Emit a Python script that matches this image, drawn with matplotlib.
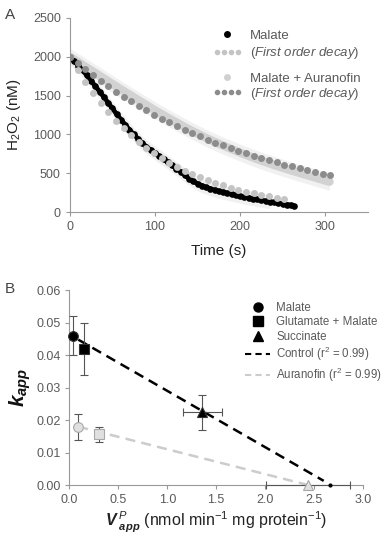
import numpy as np
import matplotlib
matplotlib.use("Agg")
import matplotlib.pyplot as plt
from matplotlib.lines import Line2D
from matplotlib.legend_handler import HandlerLine2D

plt.rcParams['font.family'] = ['Liberation Sans', 'DejaVu Sans']
plt.rcParams['mathtext.fontset'] = 'custom'
plt.rcParams['mathtext.rm'] = 'Liberation Sans'
plt.rcParams['mathtext.it'] = 'Liberation Sans:italic'
plt.rcParams['mathtext.bf'] = 'Liberation Sans:bold'
plt.rcParams['mathtext.bfit'] = 'Liberation Sans:bold:italic'

# ---------------- Panel A data ----------------
# Malate (measured), every 5 s
t_mal = [0, 5, 10, 15, 20, 25, 30, 35, 40, 45, 50, 55, 60, 65, 70, 75, 80, 85, 90, 95,
         100, 105, 110, 115, 120, 125, 130, 135, 140, 145, 150, 155, 160, 165, 170, 175,
         180, 185, 190, 195, 200, 205, 210, 215, 220, 225, 230, 235, 240, 245, 250, 255,
         260, 263]
h2o2_mal = [2000, 1945, 1885, 1825, 1760, 1690, 1620, 1550, 1480, 1405, 1335, 1260, 1190,
            1125, 1060, 1000, 945, 890, 840, 800, 760, 720, 680, 640, 600, 560, 520, 475,
            430, 395, 365, 340, 318, 300, 283, 268, 255, 242, 228, 215, 203, 192, 182, 172,
            162, 152, 142, 133, 124, 115, 106, 96, 88, 80]
sd_mal = 90

# Malate + Auranofin (measured)
t_aur = [0, 20, 40, 60, 80, 100, 120, 140, 160, 180, 200, 220, 240, 260, 280, 300, 305]
h2o2_aur = [2000, 1860, 1720, 1580, 1445, 1310, 1185, 1065, 955, 855, 765, 680, 605, 535,
            470, 405, 390]
sd_aur = 110

# first order decay fits, every 9 s
t_fit_mal = list(range(0, 253, 9))
fit_mal = [2000, 1831, 1677, 1535, 1405, 1287, 1178, 1079, 988, 904, 828, 758, 694, 635,
           582, 533, 488, 447, 409, 374, 343, 314, 287, 263, 241, 220, 202, 185, 169]
t_fit_aur = list(range(0, 307, 9))
fit_aur = [2000, 1917, 1838, 1762, 1689, 1619, 1552, 1488, 1426, 1367, 1310, 1256, 1204,
           1154, 1106, 1061, 1017, 975, 934, 895, 858, 823, 789, 756, 725, 695, 666, 638,
           612, 587, 562, 539, 517, 495, 475]

# ---------------- Panel B data ----------------
substrates = ["Malate", "Glutamate + Malate", "Succinate"]
markers = ["o", "s", "^"]
ctrl_v = [0.04, 0.15, 1.36]
ctrl_k = [0.046, 0.042, 0.0224]
ctrl_verr = [0, 0, 0.20]
ctrl_kerr = [0.006, 0.008, 0.0053]
aur_v = [0.09, 0.30, 2.44]
aur_k = [0.018, 0.0157, 0.0]
aur_verr = [0, 0, 0.43]
aur_kerr = [0.004, 0.0023, 0]
ctrl_intercept, ctrl_slope = 0.0464, -0.01735
aur_intercept, aur_slope = 0.0187, -0.00766
ctrl_vmax = 2.66

tick_col = '#5a5a5a'
spine_col = '#999999'

fig = plt.figure(figsize=(3.86, 5.45), dpi=100)
axA = fig.add_axes([0.181, 0.611, 0.772, 0.356])
axB = fig.add_axes([0.180, 0.110, 0.760, 0.357])

for ax in (axA, axB):
    for s in ('top', 'right'):
        ax.spines[s].set_visible(False)
    for s in ('left', 'bottom'):
        ax.spines[s].set_color(spine_col)
        ax.spines[s].set_linewidth(0.8)
    ax.tick_params(colors=spine_col, labelcolor=tick_col, labelsize=9, length=3, width=0.8)

# ---- Panel A ----
t_mal_a = np.array(t_mal)
h_mal_a = np.array(h2o2_mal)
band = t_mal_a <= 235
axA.fill_between(t_mal_a[band], h_mal_a[band] - sd_mal, h_mal_a[band] + sd_mal,
                 color='#f1f1f1', lw=0, zorder=1)
axA.fill_between(t_aur, np.array(h2o2_aur) - sd_aur, np.array(h2o2_aur) + sd_aur,
                 color='#f1f1f1', lw=0, zorder=1)
axA.plot(t_aur, h2o2_aur, color='#d2d2d2', lw=6, solid_capstyle='round', zorder=2)
axA.plot(t_mal, h2o2_mal, '-', color='black', lw=3.4, solid_capstyle='round', zorder=3)
axA.plot(t_mal, h2o2_mal, 'o', color='black', ms=4.8, mew=0, zorder=3)
axA.plot(t_fit_mal, fit_mal, 'o', color='#c4c4c4', ms=5, mew=0, zorder=4)
axA.plot(t_fit_aur, fit_aur, 'o', color='#8c8c8c', ms=5, mew=0, zorder=4)

axA.set_xlim(0, 350)
axA.set_ylim(0, 2500)
axA.set_xticks([0, 100, 200, 300])
axA.set_yticks([0, 500, 1000, 1500, 2000, 2500])
axA.set_xlabel('Time (s)', fontsize=11, color='#222222', labelpad=8)
axA.set_ylabel(r'H$_2$O$_2$ (nM)', fontsize=11, color='#222222', labelpad=7)

h1 = Line2D([], [], ls='none', marker='o', color='black', ms=5, mew=0)
h2 = Line2D([], [], ls='none', marker='o', color='#c4c4c4', ms=4, mew=0)
h3 = Line2D([], [], ls='none', marker='o', color='#d0d0d0', ms=5, mew=0)
h4 = Line2D([], [], ls='none', marker='o', color='#8c8c8c', ms=4, mew=0)
decay_lab = r'($\mathit{First\ order\ decay}$)'
legA1 = axA.legend([h1, h2], ['Malate', decay_lab], loc='upper left',
                   bbox_to_anchor=(0.44, 1.0), frameon=False, fontsize=9.5,
                   labelcolor=tick_col, handlelength=2.2, handletextpad=0.6,
                   labelspacing=0.25,
                   handler_map={h1: HandlerLine2D(numpoints=1), h2: HandlerLine2D(numpoints=4)})
axA.add_artist(legA1)
axA.legend([h3, h4], ['Malate + Auranofin', decay_lab], loc='upper left',
           bbox_to_anchor=(0.44, 0.78), frameon=False, fontsize=9.5,
           labelcolor=tick_col, handlelength=2.2, handletextpad=0.6,
           labelspacing=0.1,
           handler_map={h3: HandlerLine2D(numpoints=1), h4: HandlerLine2D(numpoints=4)})

# ---- Panel B ----
vx = np.array([0.09, 2.6])
axB.plot(vx, ctrl_intercept + ctrl_slope * vx, ls=(0, (4, 2.5)), color='black', lw=1.8, zorder=2)
vx2 = np.array([0.09, aur_v[2]])
axB.plot(vx2, aur_intercept + aur_slope * vx2, ls=(0, (4, 2.5)), color='#cccccc', lw=1.8, zorder=2)

for i in range(3):
    eb = axB.errorbar(ctrl_v[i], ctrl_k[i], xerr=ctrl_verr[i] or None, yerr=ctrl_kerr[i] or None,
                      fmt='none', ecolor='#555555', elinewidth=0.8, capsize=3, capthick=0.8, zorder=3)
    axB.plot(ctrl_v[i], ctrl_k[i], marker=markers[i], color='black', ms=7, mew=0.8,
             mec='#333333', ls='none', zorder=4, clip_on=False)
    eb2 = axB.errorbar(aur_v[i], aur_k[i], xerr=aur_verr[i] or None, yerr=aur_kerr[i] or None,
                       fmt='none', ecolor='#555555', elinewidth=0.8, capsize=3, capthick=0.8, zorder=3)
    for art in eb.get_children() + eb2.get_children():
        art.set_clip_on(False)
    axB.plot(aur_v[i], aur_k[i], marker=markers[i], color='#e0e0e0', ms=7, mew=0.8,
             mec='#a8a8a8', ls='none', zorder=4, clip_on=False)
axB.plot(ctrl_vmax, 0, 'o', color='black', ms=2, zorder=5, clip_on=False)

axB.set_xlim(0, 3.0)
axB.set_ylim(0, 0.06)
axB.set_xticks(np.arange(0, 3.01, 0.5))
axB.set_xticklabels(['0.0', '0.5', '1.0', '1.5', '2.0', '2.5', '3.0'])
axB.set_yticks(np.arange(0, 0.061, 0.01))
axB.set_yticklabels(['0.00', '0.01', '0.02', '0.03', '0.04', '0.05', '0.06'])
axB.set_ylabel(r'$\mathbfit{k}_{\mathbfit{app}}$', fontsize=15, color='#111111', labelpad=2)
axB.set_xlabel(r'$\mathbfit{V}^{\ \mathit{P}}_{\ \mathbfit{app}}$ (nmol min$^{-1}$ mg protein$^{-1}$)',
               fontsize=11.5, color='#222222', labelpad=3)

hb = [Line2D([], [], ls='none', marker=m, color='black', ms=6.5) for m in markers]
hb.append(Line2D([], [], ls=(0, (3, 2)), color='black', lw=1.5))
hb.append(Line2D([], [], ls=(0, (3, 2)), color='#cccccc', lw=1.5))
axB.legend(hb, substrates + [r'Control (r$^2$ = 0.99)', r'Auranofin (r$^2$ = 0.99)'],
           loc='upper right', bbox_to_anchor=(1.065, 0.94), frameon=False, fontsize=8.3,
           labelcolor=tick_col, handlelength=2.2, handletextpad=0.5, labelspacing=0.2,
           borderaxespad=0, borderpad=0)

fig.text(0.012, 0.985, 'A', fontsize=11, color='#444444', va='top')
fig.text(0.012, 0.483, 'B', fontsize=11, color='#444444', va='top')

fig.savefig('out.png', dpi=100)
